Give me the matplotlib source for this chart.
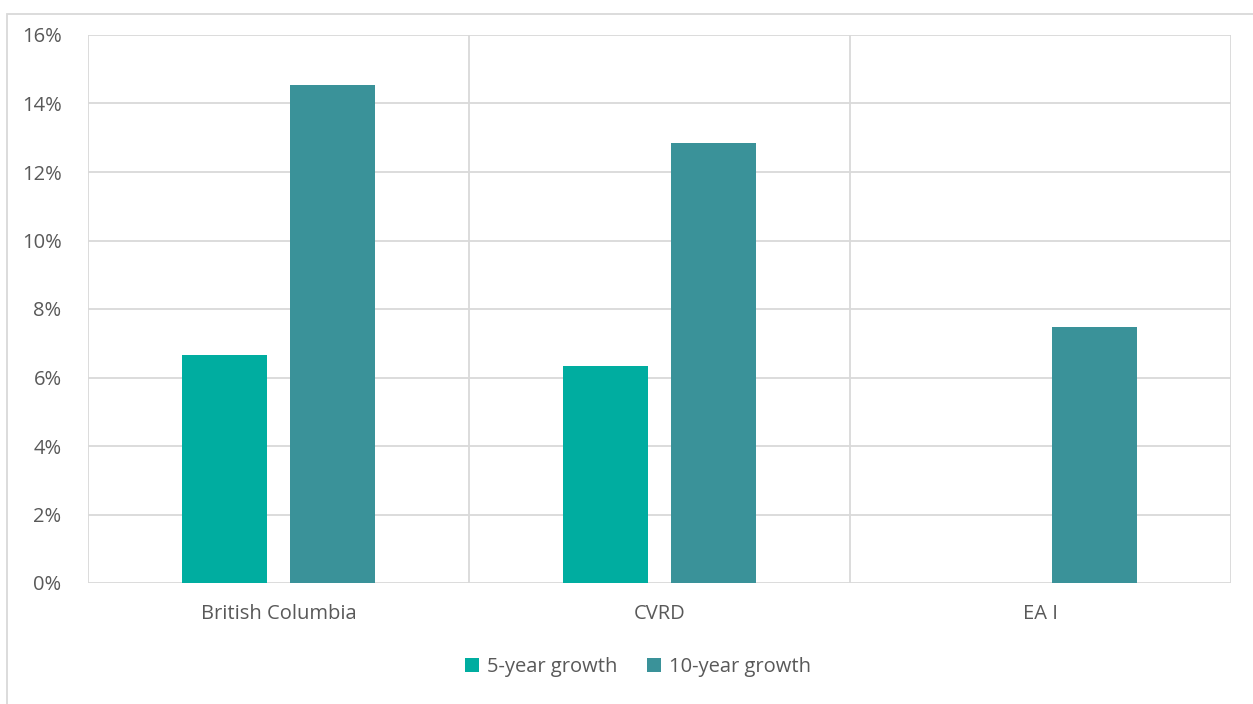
import numpy as np
import matplotlib.pyplot as plt
from matplotlib.patches import Rectangle
from matplotlib.ticker import FuncFormatter

categories = ["British Columbia", "CVRD", "EA I"]
growth_5yr = [0.0666, 0.0634, 0.0]
growth_10yr = [0.1454, 0.1285, 0.0747]
series_labels = ["5-year growth", "10-year growth"]

plt.rcParams['font.family'] = ['Open Sans', 'DejaVu Sans']
grey_text = "#595959"
grid_col = "#d9d9d9"

fig = plt.figure(figsize=(12.53, 7.04), dpi=100)
ax = fig.add_axes([88/1253, 1-583/704, (1231-88)/1253, (583-35)/704])

x = np.arange(len(categories))
w = 0.223
off = 0.142
ax.bar(x - off, growth_5yr, w, color="#00ada0", label=series_labels[0], zorder=3)
ax.bar(x + off, growth_10yr, w, color="#3a9299", label=series_labels[1], zorder=3)

ax.set_xlim(-0.5, len(categories) - 0.5)
ax.set_ylim(0, 0.16)
ax.set_yticks(np.arange(0, 0.161, 0.02))
ax.yaxis.set_major_formatter(FuncFormatter(lambda v, p: "{:.0f}%".format(v*100)))
ax.set_xticks(x)
ax.set_xticklabels(categories)
ax.tick_params(length=0, labelsize=14.5, colors=grey_text)
ax.tick_params(axis="x", pad=15)
ax.tick_params(axis="y", pad=19)

ax.yaxis.grid(True, color=grid_col, lw=1.3, zorder=0)
for b in np.arange(-0.5, len(categories), 1.0):
    ax.axvline(b, color=grid_col, lw=1.3, zorder=0)
for s in ax.spines.values():
    s.set_visible(False)

# chart area frame
fig.patches.append(Rectangle((7/1253, -0.01), 1.1, 1-14/704 + 0.01, transform=fig.transFigure,
                             fill=False, edgecolor=grid_col, lw=1.3))

leg = fig.legend(loc="center", bbox_to_anchor=(638/1253, 1-667/704), ncol=2, frameon=False,
                 fontsize=14.5, handlelength=0.7, handleheight=0.7, handletextpad=0.4, columnspacing=1.5)
for t in leg.get_texts():
    t.set_color(grey_text)

plt.savefig("out.png", dpi=100)
